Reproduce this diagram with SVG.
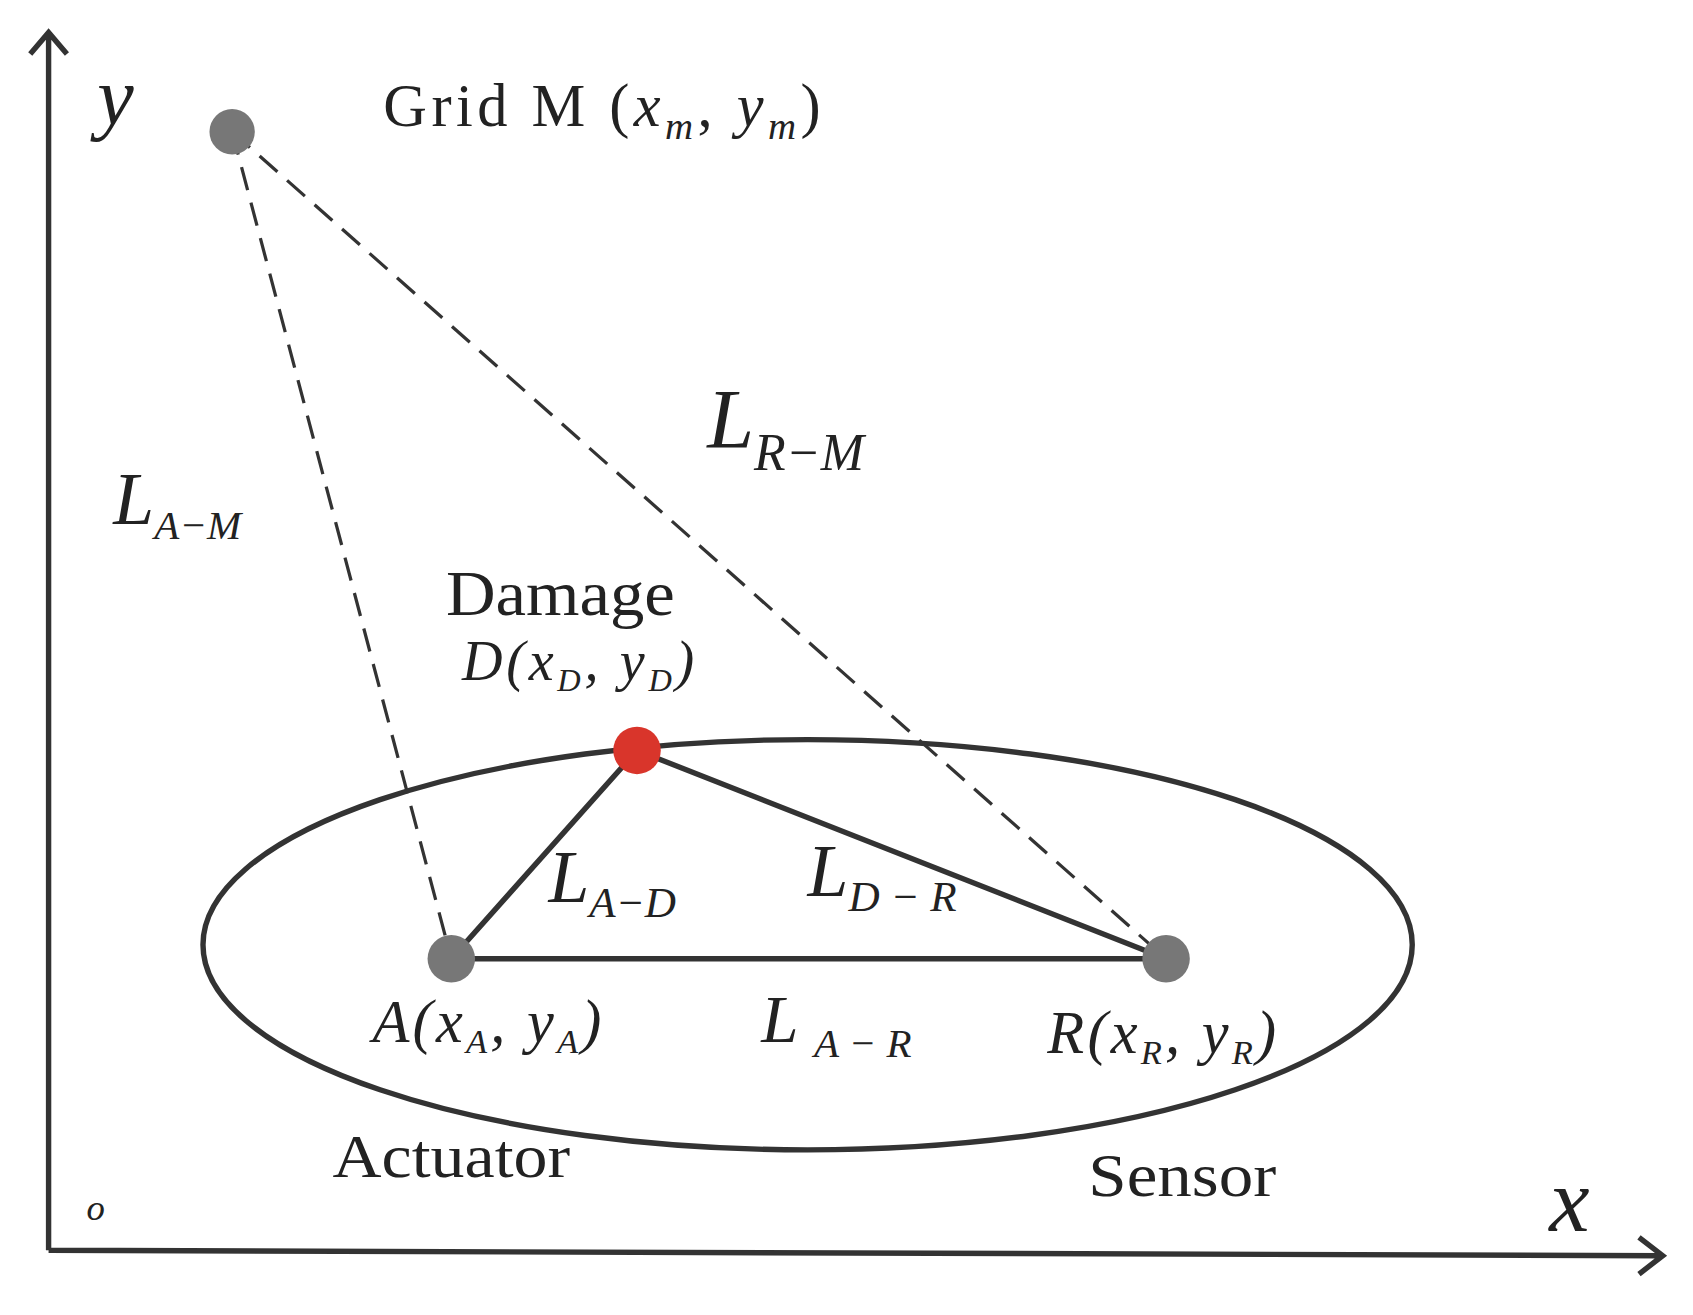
<svg xmlns="http://www.w3.org/2000/svg" width="1693" height="1315" viewBox="0 0 1693 1315">
<style>
.t{font-family:"Liberation Serif",serif;fill:#222}
.i{font-style:italic}
.d{stroke:#333;stroke-width:3;stroke-dasharray:22 12;fill:none}
.s{stroke:#333;stroke-width:5;fill:none}
</style>
<rect width="1693" height="1315" fill="#fff"/>
<g transform="scale(1.0797)">
<g id="axes">
<path class="s" d="M45 1158 L45 32 M28 50 L45 30 L62 50 M45 1158 L1538 1163 M1518 1146 L1540 1163 L1518 1180"/>
<text class="t i" x="90" y="115" font-size="76">y</text>
<text class="t i" x="1435" y="1140" font-size="84">x</text>
<text class="t i" x="80" y="1130" font-size="34">o</text>
</g>
<g id="connectors">
<path class="d" d="M215 122 L418 888 M215 122 L1080 888"/>
<path class="s" d="M418 888 L590 695 L1080 888 Z"/>
<ellipse class="s" cx="748" cy="875" rx="560" ry="190"/>
</g>
<g id="M"><circle cx="215" cy="122" r="21" fill="#777"/>
<text class="t" x="355" y="117" font-size="56" textLength="405" lengthAdjust="spacing">Grid M (<tspan class="i">x</tspan><tspan class="i" font-size="36" dy="12">m</tspan><tspan dy="-12">, </tspan><tspan class="i">y</tspan><tspan class="i" font-size="36" dy="12">m</tspan><tspan dy="-12">)</tspan></text></g>
<g id="D"><circle cx="590" cy="695" r="22" fill="#d9352b"/>
<text class="t" x="413" y="570" font-size="58" textLength="212" lengthAdjust="spacingAndGlyphs">Damage</text>
<text class="t i" x="428" y="630" font-size="52" textLength="215" lengthAdjust="spacing">D(x<tspan font-size="30" dy="10">D</tspan><tspan dy="-10">, y</tspan><tspan font-size="30" dy="10">D</tspan><tspan dy="-10">)</tspan></text></g>
<g id="A"><circle cx="418" cy="888" r="22" fill="#777"/>
<text class="t i" x="345" y="965" font-size="56" textLength="212" lengthAdjust="spacing">A(x<tspan font-size="32" dy="10">A</tspan><tspan dy="-10">, y</tspan><tspan font-size="32" dy="10">A</tspan><tspan dy="-10">)</tspan></text>
<text class="t" x="308" y="1090" font-size="56" textLength="220" lengthAdjust="spacingAndGlyphs">Actuator</text></g>
<g id="R"><circle cx="1080" cy="888" r="22" fill="#777"/>
<text class="t i" x="970" y="975" font-size="56" textLength="212" lengthAdjust="spacing">R(x<tspan font-size="32" dy="10">R</tspan><tspan dy="-10">, y</tspan><tspan font-size="32" dy="10">R</tspan><tspan dy="-10">)</tspan></text>
<text class="t" x="1008" y="1108" font-size="56" textLength="174" lengthAdjust="spacingAndGlyphs">Sensor</text></g>
<g id="labels">
<text class="t i" x="655" y="415" font-size="78">L<tspan font-size="48" dy="20">R−M</tspan></text>
<text class="t i" x="105" y="485" font-size="68">L<tspan font-size="38" dy="14">A−M</tspan></text>
<text class="t i" x="508" y="835" font-size="68">L<tspan font-size="40" dy="14">A−D</tspan></text>
<text class="t i" x="748" y="830" font-size="68">L<tspan font-size="40" dy="14">D − R</tspan></text>
<text class="t i" x="705" y="965" font-size="62">L <tspan font-size="38" dy="14">A − R</tspan></text>
</g>
</g>
</svg>
